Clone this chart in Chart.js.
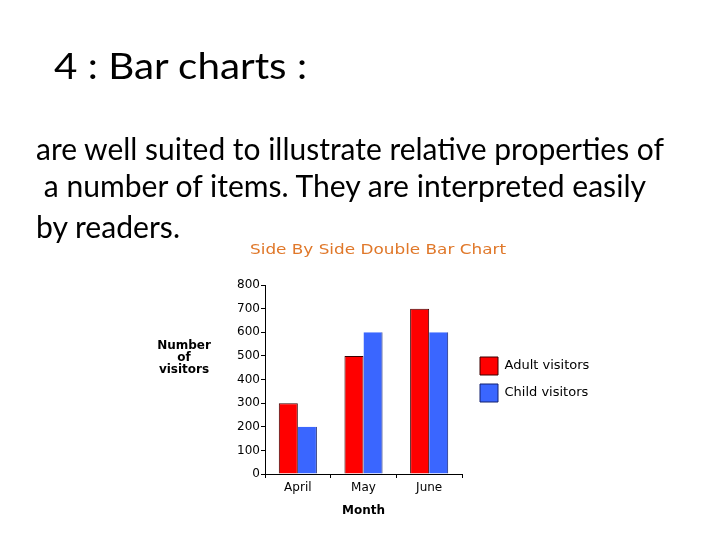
<!DOCTYPE html>
<html><head><meta charset="utf-8">
<script src="https://cdn.jsdelivr.net/npm/chart.js@4.4.1/dist/chart.umd.min.js"></script>
<style>
html,body{margin:0;padding:0;background:#fff;}
#wrap{position:relative;width:720px;height:540px;overflow:hidden;background:#fff;}
#c{position:absolute;left:0;top:0;}
.t{position:absolute;left:0;top:0;white-space:pre;font-family:Lato,"Open Sans",sans-serif;color:#000;line-height:1;transform-origin:0 0;}
</style></head><body>
<div id="wrap"><canvas id="c" width="720" height="540"></canvas></div>
<script>
// ---- data ----
const categories = ['April', 'May', 'June'];
const adultVisitors = [300, 500, 700];
const childVisitors = [200, 600, 600];
const seriesNames = ['Adult visitors', 'Child visitors'];
const yMin = 0, yMax = 800, yStep = 100;
const chartTitle = 'Side By Side Double Bar Chart';
const yTitleLines = ['Number', 'of', 'visitors'];
const xTitle = 'Month';
const slideHeading = '4 : Bar charts :';
const slideLines = [
  'are well suited to illustrate relative properties of',
  ' a number of items. They are interpreted easily',
  'by readers.'
];

// ---- slide text (HTML) ----
const wrap = document.getElementById('wrap');
function placeText(text, x, baseline, size, width) {
  const el = document.createElement('div');
  el.className = 't';
  el.textContent = text;
  el.style.fontSize = size + 'px';
  const m = document.createElement('span');
  m.style.display = 'inline-block'; m.style.width = '0'; m.style.height = '0'; m.style.verticalAlign = 'baseline';
  el.appendChild(m);
  wrap.appendChild(el);
  const nat = el.getBoundingClientRect().width;
  const off = m.offsetTop;
  el.style.left = x + 'px';
  el.style.top = (baseline - off) + 'px';
  el.style.transform = 'scaleX(' + (width / nat) + ')';
}
placeText(slideHeading, 54, 79, 36, 253);
placeText(slideLines[0], 36, 160, 31, 628);
placeText(slideLines[1], 36, 197, 31, 610);
placeText(slideLines[2], 36, 238, 31, 144);

// ---- chart ----
const extraText = {
  id: 'extraText',
  afterDraw(chart) {
    const ctx = chart.ctx;
    ctx.save();
    ctx.fillStyle = '#e0782a';
    ctx.font = '14px "DejaVu Sans"';
    ctx.textBaseline = 'alphabetic';
    ctx.textAlign = 'left';
    const w = ctx.measureText(chartTitle).width;
    ctx.translate(250, 254);
    ctx.scale(256 / w, 1);
    ctx.fillText(chartTitle, 0, 0);
    ctx.restore();

    ctx.save();
    ctx.fillStyle = '#000';
    ctx.font = 'bold 12px "DejaVu Sans"';
    ctx.textAlign = 'center';
    ctx.textBaseline = 'alphabetic';
    yTitleLines.forEach((s, i) => ctx.fillText(s, 184, 349 + i * 12));
    ctx.restore();
  }
};

new Chart(document.getElementById('c'), {
  type: 'bar',
  data: {
    labels: categories,
    datasets: [
      { label: seriesNames[0], data: adultVisitors, yAxisID: 'y',
        backgroundColor: '#ff0000', borderColor: '#3a0000',
        borderWidth: { top: 1, left: 1, right: 1, bottom: 0 }, borderSkipped: false },
      { label: seriesNames[1], data: childVisitors, yAxisID: 'y',
        backgroundColor: '#3a66ff', borderColor: '#12206e',
        borderWidth: { top: 0, left: 0, right: 1, bottom: 0 }, borderSkipped: false }
    ]
  },
  options: {
    responsive: false,
    animation: false,
    devicePixelRatio: 1,
    layout: { padding: { top: 285, left: 225, bottom: 22, right: 124 } },
    datasets: { bar: { categoryPercentage: 0.58, barPercentage: 1.0 } },
    scales: {
      x: {
        offset: true,
        grid: { display: true, offset: true, drawOnChartArea: false, drawTicks: true, tickLength: 4, color: '#000', lineWidth: 1 },
        border: { display: true, color: '#000', width: 1 },
        ticks: { color: '#000', font: { family: 'DejaVu Sans', size: 12 }, padding: 3, maxRotation: 0 },
        title: { display: true, text: xTitle, color: '#000', font: { family: 'DejaVu Sans', size: 12, weight: 'bold' }, padding: 0 },
        afterFit(s) { s.height = 44; }
      },
      y: {
        min: yMin, max: yMax,
        grid: { display: true, drawOnChartArea: false, drawTicks: true, tickLength: 4, color: '#000', lineWidth: 1 },
        border: { display: true, color: '#000', width: 1 },
        ticks: { stepSize: yStep, color: '#000', font: { family: 'DejaVu Sans', size: 12 }, padding: 1 },
        afterFit(s) { s.width = 40; }
      },
      yRight: {
        axis: 'y', position: 'right', display: true,
        grid: { display: false, drawOnChartArea: false, drawTicks: false },
        border: { display: false },
        ticks: { display: false },
        afterFit(s) { s.width = 9; }
      }
    },
    plugins: {
      title: { display: false },
      tooltip: { enabled: false },
      legend: {
        display: true, position: 'right', align: 'center', fullSize: false, maxWidth: 125,
        labels: {
          boxWidth: 18, boxHeight: 18, padding: 9, color: '#000',
          font: { family: 'DejaVu Sans', size: 13 },
          generateLabels(chart) {
            const items = Chart.defaults.plugins.legend.labels.generateLabels(chart);
            items.forEach(it => { it.lineWidth = 1; });
            return items;
          }
        }
      }
    }
  },
  plugins: [extraText]
});
</script>
</body></html>
